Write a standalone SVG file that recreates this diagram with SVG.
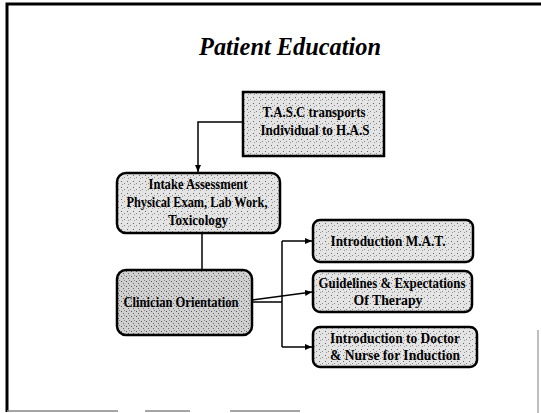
<svg xmlns="http://www.w3.org/2000/svg" width="541" height="413" viewBox="0 0 541 413">
<defs>
<style>
.box{stroke:#000;stroke-width:2.5}
.t{font-family:"Liberation Serif",serif;font-weight:bold;font-size:14.5px;fill:#000;text-anchor:middle}
.c{fill:none;stroke:#000;stroke-width:1.5}
</style>
<pattern id="spk" width="6" height="6" patternUnits="userSpaceOnUse">
<rect width="6" height="6" fill="#e4e4e4"/>
<rect x="1" y="1" width="1" height="1" fill="#666"/>
<rect x="4" y="3" width="1" height="1" fill="#888"/>
<rect x="2" y="4" width="1" height="1" fill="#999"/>
</pattern>
<pattern id="spk2" width="5" height="5" patternUnits="userSpaceOnUse">
<rect width="5" height="5" fill="#d0d0d0"/>
<rect x="1" y="1" width="1" height="1" fill="#555"/>
<rect x="3" y="3" width="1" height="1" fill="#666"/>
<rect x="4" y="0" width="1" height="1" fill="#888"/>
</pattern>
<marker id="ah" markerWidth="8" markerHeight="8" refX="7" refY="4" orient="auto" markerUnits="userSpaceOnUse">
<path d="M0,1 L7,4 L0,7 Z" fill="#000"/>
</marker>
</defs>
<rect width="541" height="413" fill="#fff"/>
<g id="frame" fill="none" stroke="#000">
<path d="M7,412 L7,4 L541,4" stroke-width="3"/>
<path d="M7,411 L118,411 M145,411 L190,411 M230,411 L300,411" stroke="#888" stroke-width="1.5"/>
<path d="M538,330 L538,413" stroke="#aaa" stroke-width="1.5"/>
</g>
<text x="290" y="55" style="font-family:'Liberation Serif',serif;font-style:italic;font-weight:bold;font-size:25px" text-anchor="middle" textLength="182" lengthAdjust="spacingAndGlyphs" fill="#000">Patient Education</text>
<g id="connectors">
<path class="c" d="M243,122 L198,122 L198,172" marker-end="url(#ah)"/>
<path class="c" d="M202,234 L202,270"/>
<path class="c" d="M252,302 L282,302"/>
<path class="c" d="M282,241 L282,347"/>
<path class="c" d="M282,241 L312,241" marker-end="url(#ah)"/>
<path class="c" d="M252,300 L312,292" marker-end="url(#ah)"/>
<path class="c" d="M282,347 L312,347" marker-end="url(#ah)"/>
</g>
<g id="tasc">
<rect class="box" x="243" y="92" width="141" height="64" fill="url(#spk)"/>
<text class="t" x="314" y="117" textLength="103" lengthAdjust="spacingAndGlyphs">T.A.S.C transports</text>
<text class="t" x="315" y="135" textLength="109" lengthAdjust="spacingAndGlyphs">Individual to H.A.S</text>
</g>
<g id="intake">
<rect class="box" x="117" y="173" width="163" height="60" rx="9" fill="url(#spk)"/>
<text class="t" x="198" y="189" textLength="99" lengthAdjust="spacingAndGlyphs">Intake Assessment</text>
<text class="t" x="197" y="207" textLength="141" lengthAdjust="spacingAndGlyphs">Physical Exam, Lab Work,</text>
<text class="t" x="198" y="225" textLength="60" lengthAdjust="spacingAndGlyphs">Toxicology</text>
</g>
<g id="clinician">
<rect class="box" x="117" y="270" width="135" height="65" rx="9" fill="url(#spk2)"/>
<text class="t" x="181" y="307" textLength="115" lengthAdjust="spacingAndGlyphs">Clinician Orientation</text>
</g>
<g id="mat">
<rect class="box" x="313" y="220" width="160" height="42" rx="7" fill="url(#spk)"/>
<text class="t" x="388" y="246" textLength="115" lengthAdjust="spacingAndGlyphs">Introduction M.A.T.</text>
</g>
<g id="guidelines">
<rect class="box" x="313" y="271" width="159" height="41" rx="7" fill="url(#spk)"/>
<text class="t" x="392" y="288" textLength="147" lengthAdjust="spacingAndGlyphs">Guidelines &amp; Expectations</text>
<text class="t" x="388" y="305" textLength="69" lengthAdjust="spacingAndGlyphs">Of Therapy</text>
</g>
<g id="doctor">
<rect class="box" x="313" y="327" width="164" height="40" rx="7" fill="url(#spk)"/>
<text class="t" x="395" y="343" textLength="130" lengthAdjust="spacingAndGlyphs">Introduction to Doctor</text>
<text class="t" x="395" y="360" textLength="130" lengthAdjust="spacingAndGlyphs">&amp; Nurse for Induction</text>
</g>
</svg>
